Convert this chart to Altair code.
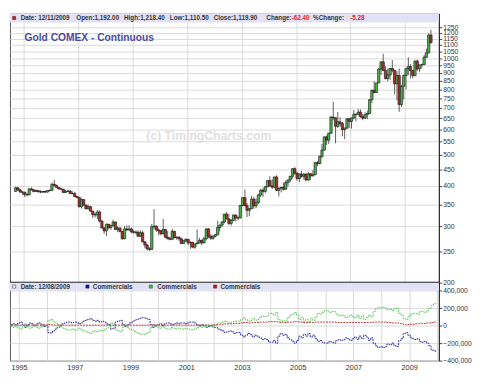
import altair as alt
import pandas as pd

# ---------------- data (monthly, Sep 1994 .. Dec 2009) ----------------
opens = [
    385, 395, 389, 383,
    383, 376, 376, 392, 389, 385, 387, 384, 383, 385, 383, 387,
    388, 405, 402, 396, 392, 391, 382, 385, 386, 379, 379, 371,
    369, 345, 363, 349, 340, 345, 334, 326, 325, 332, 311, 296,
    290, 304, 297, 301, 309, 293, 296, 289, 274, 294, 292, 294,
    288, 287, 287, 279, 286, 268, 262, 255, 254, 299, 300, 292,
    290, 284, 293, 277, 274, 273, 289, 276, 277, 274, 265, 270,
    273, 266, 267, 258, 264, 266, 271, 266, 274, 294, 279, 275,
    279, 282, 297, 302, 309, 327, 316, 306, 313, 325, 318, 318,
    348, 368, 348, 336, 340, 364, 347, 355, 375, 388, 385, 398,
    416, 400, 397, 427, 388, 394, 396, 391, 410, 418, 429, 453,
    438, 422, 436, 429, 436, 418, 437, 430, 434, 473, 470, 495,
    518, 569, 556, 584, 656, 653, 614, 634, 626, 600, 606, 648,
    636, 652, 669, 669, 680, 658, 651, 667, 673, 743, 795, 783,
    838, 926, 975, 917, 865, 887, 930, 918, 833, 884, 718, 819,
    884, 928, 942, 916, 883, 980, 927, 954, 955, 1008, 1040, 1182,
]
highs = [
    398, 397, 392, 385,
    383, 380, 393, 396, 392, 391, 389, 388, 386, 387, 388, 390,
    410, 418, 404, 397, 395, 392, 389, 390, 388, 385, 384, 373,
    370, 366, 364, 350, 350, 347, 335, 331, 337, 336, 313, 298,
    306, 305, 303, 314, 310, 300, 297, 290, 300, 302, 302, 297,
    292, 291, 291, 291, 290, 269, 264, 258, 305, 339, 302, 295,
    292, 316, 294, 290, 278, 294, 290, 279, 279, 276, 272, 275,
    273, 269, 268, 264, 293, 276, 272, 278, 296, 296, 283, 281,
    284, 312, 304, 311, 328, 332, 327, 316, 326, 326, 322, 349,
    369, 390, 354, 342, 373, 370, 366, 378, 392, 394, 400, 417,
    429, 419, 427, 432, 395, 398, 410, 416, 418, 430, 455, 458,
    443, 438, 446, 438, 437, 443, 438, 448, 476, 479, 498, 541,
    571, 575, 587, 662, 732, 654, 680, 654, 633, 608, 651, 650,
    654, 690, 672, 695, 693, 670, 679, 687, 747, 799, 848, 839,
    933, 976, 1033, 945, 930, 933, 988, 920, 912, 930, 826, 889,
    934, 1007, 961, 918, 985, 991, 956, 963, 1023, 1072, 1195, 1227,
]
lows = [
    384, 386, 381, 375,
    370, 371, 374, 387, 382, 383, 382, 380, 381, 381, 382, 385,
    385, 399, 395, 390, 389, 381, 380, 384, 378, 377, 369, 366,
    343, 340, 347, 338, 338, 333, 318, 319, 316, 308, 295, 284,
    279, 293, 292, 300, 292, 287, 287, 272, 273, 290, 290, 285,
    284, 283, 278, 278, 267, 256, 252, 251, 253, 294, 288, 281,
    281, 283, 275, 273, 271, 272, 276, 272, 270, 264, 264, 268,
    262, 255, 256, 255, 264, 265, 262, 265, 271, 275, 272, 272,
    277, 281, 289, 299, 306, 315, 302, 301, 311, 310, 313, 317,
    346, 345, 320, 322, 339, 340, 341, 352, 370, 370, 380, 396,
    398, 391, 394, 386, 371, 382, 387, 390, 399, 411, 422, 434,
    416, 411, 425, 419, 414, 414, 418, 429, 433, 461, 467, 489,
    515, 537, 541, 583, 641, 543, 607, 612, 571, 560, 603, 607,
    604, 646, 636, 663, 653, 641, 648, 646, 672, 726, 776, 780,
    838, 887, 912, 860, 849, 856, 904, 772, 740, 681, 705, 745,
    801, 886, 866, 866, 881, 914, 905, 932, 954, 1002, 1036, 1110,
]
closes = [
    395, 389, 383, 383,
    376, 376, 392, 389, 385, 387, 384, 383, 385, 383, 387, 388,
    405, 402, 396, 392, 391, 382, 385, 386, 379, 379, 371, 369,
    345, 363, 349, 340, 345, 334, 326, 325, 332, 311, 296, 290,
    304, 297, 301, 309, 293, 296, 289, 274, 294, 292, 294, 288,
    287, 287, 279, 286, 268, 262, 255, 254, 299, 300, 292, 290,
    284, 293, 277, 274, 273, 289, 276, 277, 274, 265, 270, 273,
    266, 267, 258, 264, 266, 271, 266, 274, 294, 279, 275, 279,
    282, 297, 302, 309, 327, 316, 306, 313, 325, 318, 318, 348,
    368, 348, 336, 340, 364, 347, 355, 375, 388, 385, 398, 416,
    400, 397, 427, 388, 394, 396, 391, 410, 418, 429, 453, 438,
    422, 436, 429, 436, 418, 437, 430, 434, 473, 470, 495, 518,
    569, 556, 584, 656, 653, 614, 634, 626, 600, 606, 648, 636,
    652, 669, 669, 680, 658, 651, 667, 673, 743, 795, 783, 838,
    926, 975, 917, 865, 887, 930, 918, 833, 884, 718, 819, 884,
    928, 942, 916, 883, 980, 927, 954, 955, 1008, 1040, 1182, 1120,
]

# net positions, thousands of contracts
comm_blue = [
    10, 20, 10, 30,
    40, 10, -20, 10, 30, 20, 0, 20, 30, 10, -10, 0,
    -80, -85, -60, -40, -20, 0, 20, 30, 40, 40, 30, 40,
    40, 20, 30, 50, 60, 70, 80, 60, 50, 60, 40, 50,
    40, 20, 10, -40, -30, 40, 50, 60, 10, -10, 10, 30,
    40, 60, 70, 80, 90, 90, 80, 70, 10, -20, 0, 10,
    20, 0, 20, 30, 30, 10, 20, 30, 20, 30, 30, 20,
    30, 40, 40, 30, 10, 0, 10, 0, -20, -10, 0, -20,
    -20, -40, -50, -60, -80, -70, -60, -70, -90, -80, -80, -110,
    -130, -110, -90, -100, -130, -110, -120, -140, -160, -150, -160, -190,
    -190, -170, -200, -120, -90, -110, -100, -140, -160, -180, -200, -170,
    -120, -140, -100, -120, -90, -130, -110, -150, -180, -170, -190, -200,
    -200, -180, -190, -200, -170, -160, -170, -160, -140, -150, -170, -150,
    -130, -160, -120, -150, -110, -130, -170, -140, -200, -230, -250, -240,
    -250, -240, -210, -220, -200, -230, -240, -170, -150, -90, -80, -110,
    -140, -150, -160, -150, -180, -190, -180, -200, -230, -280, -290, -300,
]
comm_green = [
    -10, -20, -10, -30,
    -40, -10, 20, -10, -30, -20, 0, -20, -30, -10, 10, 0,
    60, 70, 50, 30, 10, -10, -30, -40, -50, -50, -40, -50,
    -50, -30, -40, -60, -70, -80, -90, -70, -60, -70, -50, -60,
    -50, -30, -20, 30, 20, -50, -60, -70, -20, 0, -20, -40,
    -50, -70, -80, -90, -100, -100, -90, -80, -20, 10, -10, -20,
    -30, -10, -30, -40, -40, -20, -30, -40, -30, -40, -40, -30,
    -40, -50, -50, -40, -20, -10, -20, -10, 10, 0, -10, 10,
    10, 30, 30, 40, 50, 40, 30, 40, 50, 50, 50, 70,
    90, 70, 50, 60, 80, 60, 70, 90, 110, 100, 110, 140,
    140, 120, 150, 70, 40, 60, 50, 90, 110, 130, 150, 120,
    70, 90, 50, 70, 40, 80, 60, 100, 140, 130, 150, 170,
    170, 150, 160, 160, 130, 110, 120, 110, 90, 100, 120, 100,
    90, 120, 80, 110, 70, 90, 120, 100, 160, 190, 210, 200,
    210, 200, 180, 190, 170, 190, 200, 140, 120, 80, 70, 100,
    130, 140, 140, 130, 160, 160, 150, 170, 200, 230, 250, 260,
]
comm_red = [
    5, 5, 5, 5,
    5, 5, 5, 5, 5, 5, 5, 5, 5, 5, 5, 5,
    10, 10, 5, 5, 5, 5, 5, 5, 5, 5, 5, 5,
    5, 5, 5, 5, 5, 5, 5, 5, 5, 5, 5, 5,
    5, 5, 5, 5, 5, 5, 5, 5, 5, 5, 5, 5,
    5, 5, 5, 5, 5, 5, 5, 5, 10, 10, 5, 5,
    5, 5, 5, 5, 5, 5, 5, 5, 5, 5, 5, 5,
    5, 5, 5, 5, 5, 5, 5, 5, 5, 5, 5, 5,
    10, 10, 15, 15, 20, 20, 20, 20, 25, 25, 25, 30,
    35, 35, 30, 30, 35, 35, 35, 40, 40, 40, 40, 45,
    45, 45, 45, 40, 35, 35, 35, 40, 40, 40, 45, 45,
    40, 40, 35, 35, 35, 35, 35, 40, 40, 40, 40, 40,
    40, 40, 40, 40, 35, 35, 35, 35, 35, 35, 35, 35,
    35, 35, 35, 35, 35, 35, 35, 35, 40, 40, 40, 40,
    40, 40, 35, 35, 30, 30, 30, 25, 20, 15, 10, 10,
    15, 15, 20, 20, 25, 25, 25, 30, 30, 35, 40, 40,
]

year_ticks = list(range(1995, 2011))
price_ticks = [200, 250, 300, 350, 400, 450, 500, 550, 600, 650, 700, 750,
               800, 850, 900, 950, 1000, 1050, 1100, 1150, 1200, 1250]
cot_ticks = [-400000, -200000, 0, 200000, 400000]

# ---------------- tables ----------------
n = len(closes)
months = pd.date_range("1994-09-01", periods=n, freq="MS") + pd.Timedelta(days=14)
dates = [d.strftime("%Y-%m-%dT00:00:00") for d in months]
price = pd.DataFrame({"date": dates, "open": opens, "high": highs,
                      "low": lows, "close": closes})
cot = pd.DataFrame({
    "date": dates * 3,
    "net": [v * 1000 for v in comm_blue + comm_green + comm_red],
    "series": ["a"] * n + ["b"] * n + ["c"] * n,
})
one = pd.DataFrame({"k": [0]})

W, H1, H2 = 440, 276, 80
FONT = "Liberation Sans"
GRID = "#d9d9d9"
HDR = "#e2e2f6"

xdomain = [alt.DateTime(year=1994, month=9, date=4),
           alt.DateTime(year=2010, month=1, date=25)]
xvals = [alt.DateTime(year=y, month=1, date=1) for y in year_ticks]
xscale = alt.Scale(domain=xdomain)

x_top = alt.X("date:T", scale=xscale,
              axis=alt.Axis(values=xvals, grid=True, labels=False, ticks=False,
                            domain=False, title=None, gridColor=GRID))
y_price = alt.Y("low:Q",
                scale=alt.Scale(type="log", domain=[200, 1378], nice=False),
                axis=alt.Axis(orient="right", values=price_ticks, grid=True,
                              gridColor=GRID, title=None, labelFontSize=7,
                              labelPadding=1, tickSize=3, tickColor="#444",
                              domainColor="#222", labelColor="#333",
                              labelOverlap=False, labelFlush=False,
                              labelExpr="format(datum.value, 'd')"))

hdr_top = alt.Chart(one).mark_rect(color=HDR).encode(
    x=alt.value(0), x2=alt.value(W), y=alt.value(0), y2=alt.value(9))

wicks = alt.Chart(price).mark_rule(color="#333", strokeWidth=0.8).encode(
    x=x_top, y=y_price, y2="high:Q")

bodies = alt.Chart(price).mark_bar(size=2.4, stroke="#111", strokeWidth=0.6).encode(
    x="date:T", y="open:Q", y2="close:Q",
    color=alt.condition("datum.close >= datum.open",
                        alt.value("#4fb04f"), alt.value("#b03030")))


def txt(s, x, y, color="#333", size=6.5, weight="bold", align="left"):
    return alt.Chart(one).mark_text(text=s, align=align, baseline="middle",
                                    font=FONT, fontSize=size, fontWeight=weight,
                                    color=color).encode(x=alt.value(x), y=alt.value(y))


def sq(x, y, fill, stroke="#555"):
    return alt.Chart(one).mark_square(size=10, fill=fill, stroke=stroke,
                                      strokeWidth=0.6, opacity=1).encode(
        x=alt.value(x), y=alt.value(y))


top_texts = [
    sq(4.3, 4.5, "#c02020", "#801010"),
    txt("Date: 12/11/2009", 11, 4.5),
    txt("Open:1,192.00", 68, 4.5),
    txt("High:1,218.40", 117, 4.5),
    txt("Low:1,110.50", 164, 4.5),
    txt("Close:1,119.90", 209, 4.5),
    txt("Change:", 263, 4.5),
    txt("-62.40", 289, 4.5, color="#e02020"),
    txt("%Change:", 311, 4.5),
    txt("-5.28", 349, 4.5, color="#e02020"),
    txt("Gold COMEX - Continuous", 15, 25, color="#4b4b9b", size=10.5),
    txt("(c) TimingCharts.com", 204, 126, color="#e0e0e0", size=12.5,
        align="center"),
]

sep = alt.Chart(one).mark_rule(color="#111", strokeWidth=2).encode(
    x=alt.value(0), x2=alt.value(W), y=alt.value(H1))

top = alt.layer(hdr_top, wicks, bodies, *top_texts, sep).properties(
    width=W, height=H1)

# ---------------- lower panel ----------------
x_bot = alt.X("date:T", scale=xscale,
              axis=alt.Axis(values=xvals, grid=True, ticks=False, domain=False,
                            title=None, gridColor=GRID, labelFontSize=7.5,
                            labelPadding=3, labelColor="#333", labelFlush=False,
                            labelOverlap=False,
                            labelExpr="year(datum.value) % 2 == 1 ? timeFormat(datum.value, '%Y') : ''"))
y_cot = alt.Y("net:Q", scale=alt.Scale(domain=[-400000, 490000], nice=False),
              axis=alt.Axis(orient="right", values=cot_ticks, format=",d",
                            grid=True, gridColor=GRID, title=None,
                            labelFontSize=7, labelPadding=1, tickSize=3,
                            tickColor="#444", domainColor="#222",
                            labelColor="#333", labelOverlap=False,
                            labelFlush=False))

hdr_bot = alt.Chart(one).mark_rect(color=HDR).encode(
    x=alt.value(0), x2=alt.value(W), y=alt.value(0), y2=alt.value(8))

lines = alt.Chart(cot).mark_line(interpolate="step-after", strokeWidth=1,
                                 strokeDash=[2, 1]).encode(
    x=x_bot, y=y_cot,
    color=alt.Color("series:N", legend=None,
                    scale=alt.Scale(domain=["a", "b", "c"],
                                    range=["#2a2aa0", "#5ccc5c", "#c03030"])))

bot_texts = [
    sq(4.3, 4, "#ffffff", "#444"),
    txt("Date: 12/08/2009", 11, 4),
    sq(79.5, 4, "#1a1aa0", "#101060"),
    txt("Commercials", 85, 4),
    sq(144.5, 4, "#40c040", "#207020"),
    txt("Commercials", 151, 4),
    sq(210.5, 4, "#c02020", "#801010"),
    txt("Commercials", 216, 4),
]

bottom = alt.layer(hdr_bot, lines, *bot_texts).properties(width=W, height=H2)

chart = alt.vconcat(top, bottom, spacing=0, bounds="flush").properties(
    padding={"left": 0, "top": 0, "right": 0, "bottom": 0}
).configure_view(stroke="#555", strokeWidth=1).configure_axis(labelFont=FONT)

chart.save("out.html", embed_options={"renderer": "svg", "actions": False})
